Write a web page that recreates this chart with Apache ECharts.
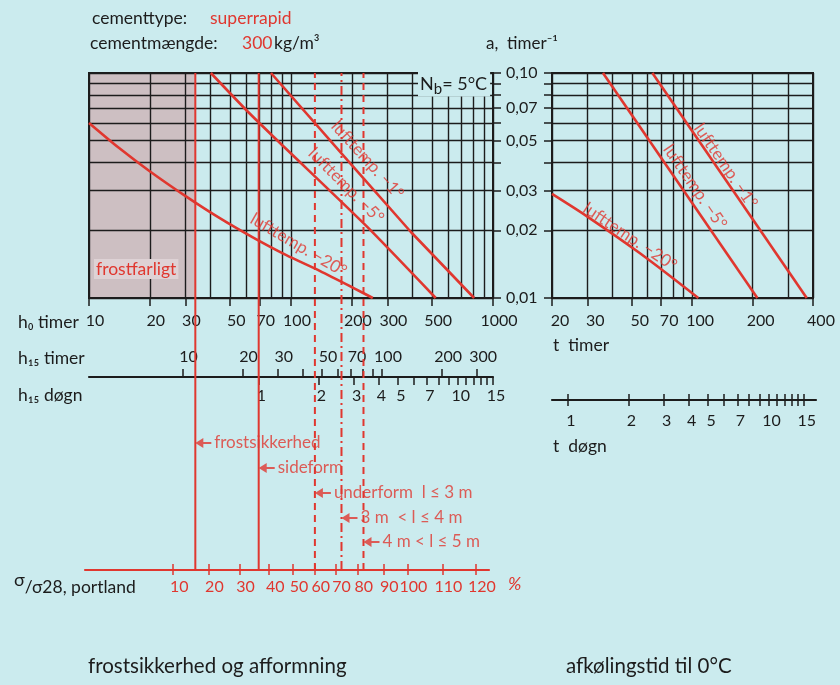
<!DOCTYPE html>
<html><head><meta charset="utf-8">
<script src="https://cdn.jsdelivr.net/npm/echarts@6/dist/echarts.min.js"></script>
<style>html,body{margin:0;padding:0;background:#cbebee;}#c{width:840px;height:685px;}</style>
</head><body><div id="c"></div>
<script>
// ---------------- data ----------------
const h0Grid = [10,20,30,40,50,60,70,80,90,100,200,300,400,500,600,700,800,900,1000];
const h0Labels = [10,20,30,50,70,100,200,300,500,1000];
const aGrid = [0.01,0.02,0.03,0.04,0.05,0.06,0.07,0.08,0.09,0.10];
const aLabels = [0.01,0.02,0.03,0.05,0.07,0.10];
const tGrid = [20,30,40,50,60,70,80,90,100,200,300,400];
const tLabels = [20,30,50,70,100,200,400];
const h15Ticks = [10,20,30,40,50,60,70,80,90,100,200,300];
const h15Labels = [10,20,30,50,70,100,200,300];
const dayTicks = [1,2,3,4,5,6,7,8,9,10,11,12,13,14,15];
const dayLabels = [1,2,3,4,5,7,10,15];
const pctValues = [10,20,30,40,50,60,70,80,90,100,110,120];
const pctH0 = [26.1,39.0,55.6,78.0,102.3,131.0,165.9,214.2,286.5,376.8,562.1,822.7];

// left diagram: a (timer^-1) vs h0 (timer)
const leftM1H = [79.6,189.7,391.3,806.6];
const leftM1A = [0.10,0.0411,0.0197,0.010];
const leftM5H = [40.1,60,88.5,238.5,520.6];
const leftM5A = [0.10,0.0685,0.0487,0.0207,0.010];
const leftM20H = [10,14.1,19.9,30.2,44.2,64.7,94.8,138.7,203.2,254];
const leftM20A = [0.0600,0.0464,0.0367,0.0283,0.0227,0.0186,0.0155,0.0132,0.0111,0.010];
// right diagram: a vs t (timer)
const rightM1T = [63.3,372.3];
const rightM1A = [0.10,0.010];
const rightM5T = [35.9,211.2];
const rightM5A = [0.10,0.010];
const rightM20T = [20,30.9,54.9,107.2];
const rightM20A = [0.029,0.0226,0.0158,0.010];
// criteria lines (h0 values)
const critH0 = [33.6,69.2,131.3,177.8,228.5];
const critNames = ['frostsikkerhed','sideform','underform  l ≤ 3 m','3 m  < l ≤ 4 m','4 m < l ≤ 5 m'];
const curveNames = ['lufttemp. −1°','lufttemp. −5°','lufttemp. −20°'];

// ---------------- layout / style ----------------
const BG = '#cbebee';
const RED = '#e0372f';
const INK = '#1c1c1c';
const FONT = 'Lato, "Open Sans", "DejaVu Sans", sans-serif';
const TXT = 17.5;   // body text size
const TICK = 16;    // tick label size
const critStyles = ['solid','solid',[7,5],[9,4,2,4],[7,5]];
const leftLabelSpots = [[239.3,0.0411,-47.9],[187.5,0.0316,-45],[109,0.0172,-30.4]];
const rightLabelSpots = [[146.9,0.0387,-55.5],[103.3,0.0312,-55.6],[49,0.0187,-33.7]];
const overlayTop = 73, overlayBottom = 570;
const arrowRowsPx = [443,468,493,518,542];
const pxPerDecade = 202;
const pctShift = 4;   // % axis line starts 4px left of the h0 axis
const tdayExtra = 3;  // t døgn line extends 3px beyond the plot

const zip = (xs, ys) => xs.map((x, i) => [x, ys[i]]);
const nearestIdx = (arr, v) => { let bi = 0, bd = Infinity; arr.forEach((x, i) => { const d = Math.abs(Math.log(x) - Math.log(v)); if (d < bd) { bd = d; bi = i; } }); return bi; };
const comma = v => v.toFixed(2).replace('.', ',');
const intf = v => String(Math.round(v));

function axisBase(extra) {
  return Object.assign({
    type: 'log', logBase: 10,
    axisLine: { show: false }, axisTick: { show: false }, axisLabel: { show: false },
    splitLine: { show: false }, z: 3
  }, extra);
}
const tickStyle = (c, len, inside) => ({ show: true, length: len, inside: !!inside, lineStyle: { color: c, width: 1.5 } });
const labStyle = (c, size, shift) => ({ color: c, fontSize: size, fontFamily: FONT, padding: [0, 0, 0, 2 * (shift || 0)] });
const gridLine = { show: true, lineStyle: { color: INK, width: 1.4 } };

const pctMin = 10 * Math.pow(10, -pctShift / pxPerDecade);
const pctMax = 1000 * Math.pow(10, -pctShift / pxPerDecade);
const h15Min = 3.4, h15Max = 360;
const tdayMin = 20 / 24, tdayMax = 400 * Math.pow(10, tdayExtra / pxPerDecade) / 24;

const chart = echarts.init(document.getElementById('c'));
const option = {
  backgroundColor: BG,
  animation: false,
  grid: [
    { left: 89, top: 73, width: 404, height: 225, show: true, borderColor: INK, borderWidth: 2, backgroundColor: 'transparent', z: 4 },
    { left: 552, top: 73, width: 261, height: 225, show: true, borderColor: INK, borderWidth: 2, backgroundColor: 'transparent', z: 4 },
    { left: 89, top: overlayTop, width: 404, height: overlayBottom - overlayTop },
    { left: 89, top: 377, width: 404, height: 0 },
    { left: 89 - pctShift, top: 570, width: 404, height: 0 },
    { left: 552, top: 400, width: 261 + tdayExtra, height: 0 }
  ],
  xAxis: [
    // 0: left plot grid lines
    axisBase({ gridIndex: 0, min: 10, max: 1000, axisTick: { show: false, customValues: h0Grid }, splitLine: gridLine }),
    // 1: left plot ticks + labels
    axisBase({ gridIndex: 0, min: 10, max: 1000, position: 'bottom',
      axisTick: Object.assign(tickStyle(INK, 8), { customValues: h0Labels }),
      axisLabel: Object.assign(labStyle(INK, TICK, 6), { show: true, customValues: h0Labels, margin: 15, formatter: intf }) }),
    // 2: right plot grid lines
    axisBase({ gridIndex: 1, min: 20, max: 400, axisTick: { show: false, customValues: tGrid }, splitLine: gridLine }),
    // 3: right plot ticks + labels
    axisBase({ gridIndex: 1, min: 20, max: 400, position: 'bottom',
      axisTick: Object.assign(tickStyle(INK, 8), { customValues: tLabels }),
      axisLabel: Object.assign(labStyle(INK, TICK, 8), { show: true, customValues: tLabels, margin: 15, formatter: intf }) }),
    // 4: overlay (criteria lines)
    axisBase({ gridIndex: 2, min: 10, max: 1000 }),
    // 5: h15 timer
    axisBase({ gridIndex: 3, min: h15Min, max: h15Max, position: 'top',
      axisLine: { show: true, lineStyle: { color: INK, width: 2.2 } },
      axisTick: Object.assign(tickStyle(INK, 8), { customValues: h15Ticks }),
      axisLabel: Object.assign(labStyle(INK, TICK, 6), { show: true, customValues: h15Labels, margin: 12, formatter: intf }) }),
    // 6: h15 døgn
    axisBase({ gridIndex: 3, min: h15Min / 24, max: h15Max / 24, position: 'bottom',
      axisTick: Object.assign(tickStyle(INK, 8), { customValues: dayTicks }),
      axisLabel: Object.assign(labStyle(INK, TICK, 3), { show: true, customValues: dayLabels, margin: 11, formatter: intf }) }),
    // 7: % axis line + upward ticks
    axisBase({ gridIndex: 4, min: pctMin, max: pctMax, position: 'bottom',
      axisLine: { show: true, lineStyle: { color: RED, width: 2.2 } },
      axisTick: Object.assign(tickStyle(RED, 6, true), { customValues: pctH0 }) }),
    // 8: % axis downward ticks + labels
    axisBase({ gridIndex: 4, min: pctMin, max: pctMax, position: 'bottom',
      axisTick: Object.assign(tickStyle(RED, 5), { customValues: pctH0 }),
      axisLabel: Object.assign(labStyle(RED, TICK, 6), { show: true, customValues: pctH0, margin: 9,
        formatter: v => String(pctValues[nearestIdx(pctH0, v)]) }) }),
    // 9: t døgn line + upward ticks
    axisBase({ gridIndex: 5, min: tdayMin, max: tdayMax, position: 'top',
      axisLine: { show: true, lineStyle: { color: INK, width: 2.2 } },
      axisTick: Object.assign(tickStyle(INK, 6), { customValues: dayTicks }) }),
    // 10: t døgn downward ticks + labels
    axisBase({ gridIndex: 5, min: tdayMin, max: tdayMax, position: 'bottom',
      axisTick: Object.assign(tickStyle(INK, 6), { customValues: dayTicks }),
      axisLabel: Object.assign(labStyle(INK, TICK, 3), { show: true, customValues: dayLabels, margin: 13, formatter: intf }) })
  ],
  yAxis: [
    axisBase({ gridIndex: 0, min: 0.01, max: 0.1, position: 'right',
      axisTick: Object.assign(tickStyle(INK, 8), { customValues: aGrid }),
      axisLabel: Object.assign(labStyle(INK, TICK), { show: true, customValues: aLabels, margin: 13, formatter: comma }),
      splitLine: gridLine }),
    axisBase({ gridIndex: 1, min: 0.01, max: 0.1, position: 'left',
      axisTick: Object.assign(tickStyle(INK, 8), { customValues: aGrid }),
      splitLine: gridLine }),
    { gridIndex: 2, type: 'value', min: 0, max: 1, show: false },
    { gridIndex: 3, type: 'value', show: false },
    { gridIndex: 4, type: 'value', show: false },
    { gridIndex: 5, type: 'value', show: false }
  ],
  series: []
};

// frost-danger shading
option.series.push({
  type: 'line', xAxisIndex: 0, yAxisIndex: 0, data: [[10, 0.01]], showSymbol: false, z: 1,
  lineStyle: { opacity: 0 },
  markArea: { silent: true, z: 1, itemStyle: { color: '#cdbfc2' },
    data: [[{ xAxis: 10, yAxis: 0.01 }, { xAxis: critH0[0], yAxis: 0.1 }]] }
});
// curves
const curveLine = (xi, yi, data, smooth) => ({ type: 'line', xAxisIndex: xi, yAxisIndex: yi, data, smooth,
  showSymbol: false, z: 5, lineStyle: { color: RED, width: 2.6 } });
option.series.push(curveLine(0, 0, zip(leftM1H, leftM1A), false));
option.series.push(curveLine(0, 0, zip(leftM5H, leftM5A), 0.2));
option.series.push(curveLine(0, 0, zip(leftM20H, leftM20A), 0.25));
option.series.push(curveLine(2, 1, zip(rightM1T, rightM1A), false));
option.series.push(curveLine(2, 1, zip(rightM5T, rightM5A), false));
option.series.push(curveLine(2, 1, zip(rightM20T, rightM20A), 0.35));
// curve labels
const labelSeries = (xi, yi, spots) => ({ type: 'scatter', xAxisIndex: xi, yAxisIndex: yi, symbolSize: 0, z: 6, silent: true,
  data: spots.map((s, i) => ({ value: [s[0], s[1]], name: curveNames[i],
    label: { show: true, position: 'inside', rotate: s[2], formatter: '{b}', color: RED, fontSize: 17, fontFamily: FONT } })) });
option.series.push(labelSeries(0, 0, leftLabelSpots));
option.series.push(labelSeries(2, 1, rightLabelSpots));
// criteria lines
critH0.forEach((h, i) => option.series.push({
  type: 'line', xAxisIndex: 4, yAxisIndex: 2, data: [[h, 0], [h, 1]], showSymbol: false, z: 5,
  lineStyle: { color: RED, width: 2, type: critStyles[i] }
}));
// arrows with labels
const rowVal = px => (overlayBottom - px) / (overlayBottom - overlayTop);
option.series.push({
  type: 'scatter', xAxisIndex: 4, yAxisIndex: 2, z: 7, silent: true,
  symbol: 'path://M0,5L8,0L8,4L16,4L16,6L8,6L8,10Z', symbolSize: [16, 10], symbolOffset: [8, 0],
  itemStyle: { color: RED },
  data: critH0.map((h, i) => ({ value: [h, rowVal(arrowRowsPx[i])], name: critNames[i] })),
  label: { show: true, position: 'right', distance: 3, formatter: '{b}', color: RED, fontSize: 17, fontFamily: FONT }
});

const txt = (x, y, text, fill, size, extra) => ({ type: 'text', x, y, z: 10,
  style: Object.assign({ text, fill, fontSize: size, fontFamily: FONT, verticalAlign: 'middle' }, extra || {}) });
option.graphic = { elements: [
  txt(92, 18, 'cementtype:', INK, TXT),
  txt(210, 18, 'superrapid', RED, TXT),
  txt(90, 43, 'cementmængde:', INK, TXT),
  txt(242, 43, '300', RED, TXT),
  txt(274, 43, 'kg/m³', INK, TXT),
  txt(486, 44, 'a,  timer⁻¹', INK, 17),
  txt(18, 322, 'h₀ timer', INK, TXT),
  txt(18, 358, 'h₁₅ timer', INK, TXT),
  txt(18, 395, 'h₁₅ døgn', INK, TXT),
  txt(14, 585, '{s|σ}{n|/σ28, portland}', INK, TXT, { rich: {
    s: { fontSize: 18, fontFamily: FONT, fill: INK, padding: [0, 0, 9, 0] },
    n: { fontSize: 17.5, fontFamily: FONT, fill: INK, padding: [4, 0, 0, 0] } } }),
  txt(508, 584, '%', RED, 18, { fontStyle: 'italic' }),
  txt(553, 345, 't  timer', INK, TXT),
  txt(553, 446, 't  døgn', INK, TXT),
  txt(88, 666, 'frostsikkerhed og afformning', INK, 20.5),
  txt(566, 666, 'afkølingstid til 0°C', INK, 20.5),
  txt(418, 84, '{n|N}{b|b}{n|= 5°C}', INK, 18, { backgroundColor: BG, padding: [0, 3, 0, 2], rich: {
    n: { fontSize: 18, fontFamily: FONT, fill: INK },
    b: { fontSize: 15, fontFamily: FONT, fill: INK, padding: [10, 0, 0, 0] } } }),
  txt(94, 269, 'frostfarligt', RED, 17.5, { backgroundColor: '#ded2d5', padding: [1, 2] })
] };
chart.setOption(option);
</script>
</body></html>
